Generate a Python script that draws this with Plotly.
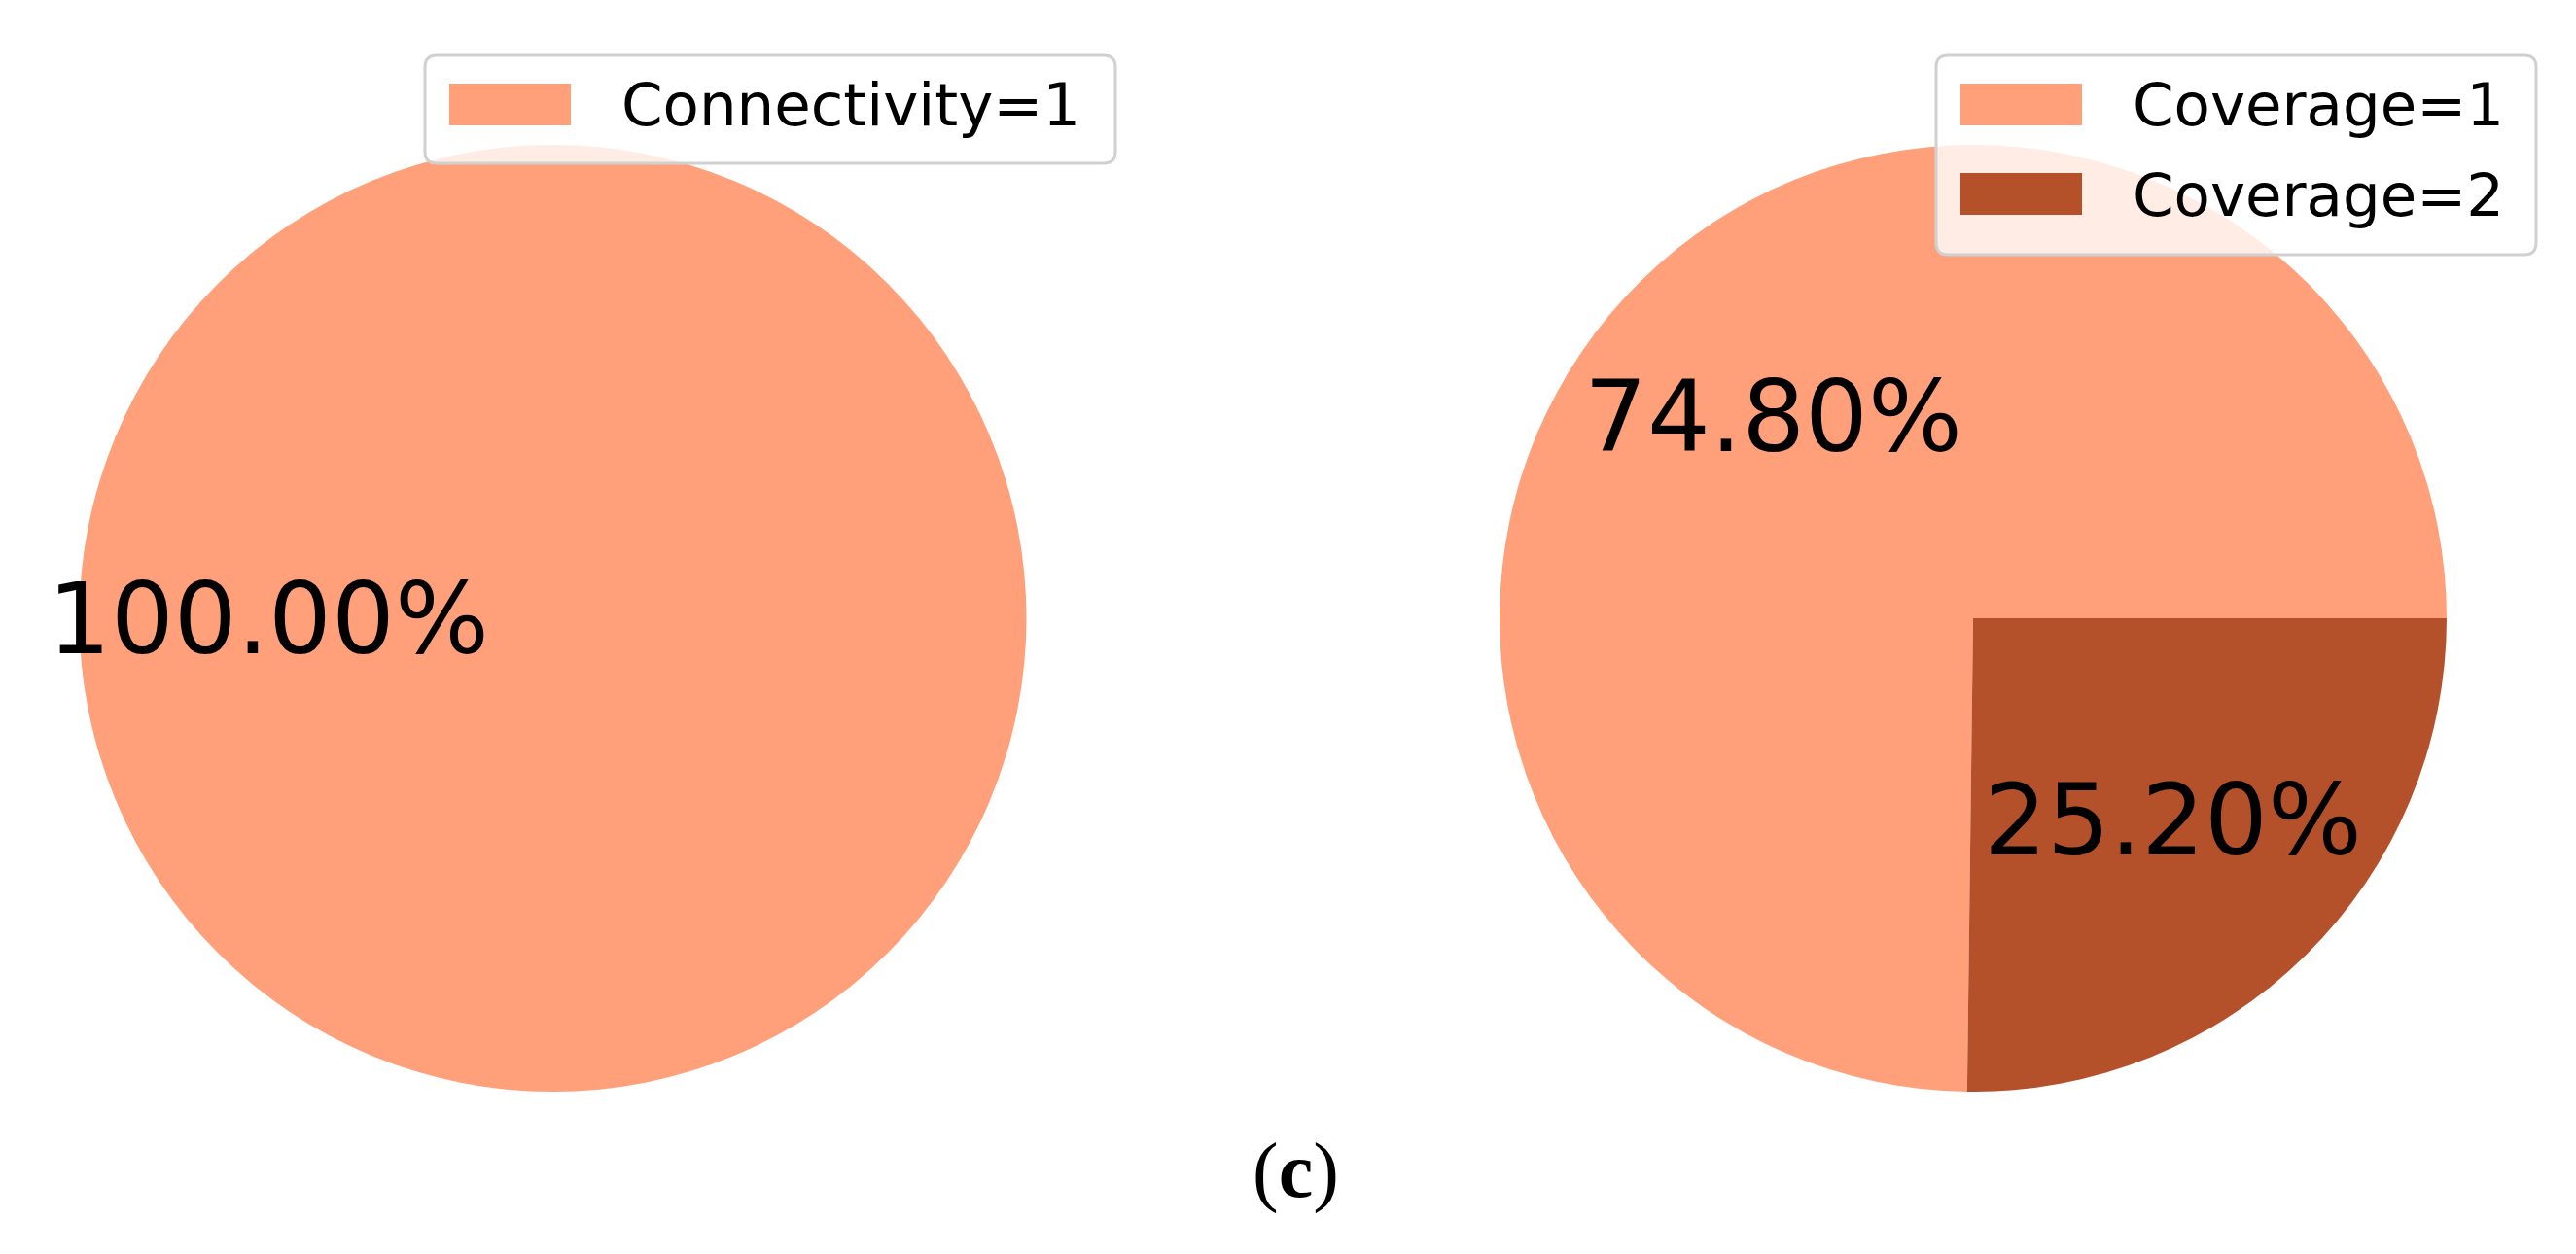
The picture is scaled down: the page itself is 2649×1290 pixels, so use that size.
"""
Two pie charts: connectivity and coverage shares, with framed legends
and a "(c)" caption underneath.
"""

import math

import plotly.graph_objects as go

W, H = 2649, 1290

# data
connectivity_labels = ["Connectivity=1"]
connectivity_values = [100.0]
coverage_labels = ["Coverage=1", "Coverage=2"]
coverage_values = [74.8, 25.2]
slice_colors = ["#FFA07A", "#B5512A"]
caption = "(<b>c</b>)"

LABEL_FONT = dict(family="DejaVu Sans", size=102, color="#000000")
LEGEND_FONT = dict(family="DejaVu Sans", size=61, color="#000000")


def px_x(x):
    return x / W


def px_y(y):
    return 1 - y / H


def rounded_box(x0, y0, x1, y1, r=12):
    """SVG path for a rounded rectangle given in pixel coords."""
    a, b, c, d = px_x(x0), px_y(y0), px_x(x1), px_y(y1)
    rx, ry = r / W, r / H
    return (
        f"M{a + rx},{b} L{c - rx},{b} Q{c},{b} {c},{b - ry} "
        f"L{c},{d + ry} Q{c},{d} {c - rx},{d} "
        f"L{a + rx},{d} Q{a},{d} {a},{d + ry} "
        f"L{a},{b - ry} Q{a},{b} {a + rx},{b} Z"
    )


def pie_trace(labels, values, cx, cy, r):
    # plotly puts the first ccw slice clockwise of `rotation`; shift it so the
    # first slice starts at 3 o'clock and runs counterclockwise (matplotlib style)
    first_span = 360.0 * values[0] / sum(values)
    return go.Pie(
        labels=labels,
        values=values,
        domain=dict(
            x=[px_x(cx - r), px_x(cx + r)],
            y=[px_y(cy + r), px_y(cy - r)],
        ),
        marker=dict(colors=slice_colors[: len(values)], line=dict(width=0)),
        sort=False,
        direction="counterclockwise",
        rotation=90 - first_span,
        textinfo="none",
        showlegend=False,
        hoverinfo="label+percent",
    )


def pct_annotations(values, cx, cy, r):
    """matplotlib-style autopct labels at 0.6 of the radius."""
    out = []
    total = sum(values)
    start = 0.0
    for v in values:
        span = 360.0 * v / total
        mid = math.radians(start + span / 2)
        out.append(dict(
            x=px_x(cx + 0.6 * r * math.cos(mid)),
            y=px_y(cy - 0.6 * r * math.sin(mid)),
            xref="paper", yref="paper",
            text=f"{100 * v / total:.2f}%",
            showarrow=False,
            font=LABEL_FONT,
            xanchor="center", yanchor="middle",
        ))
        start += span
    return out


def legend_parts(labels, x0, y0, x1, y1):
    shapes = [dict(
        type="path", xref="paper", yref="paper",
        path=rounded_box(x0, y0, x1, y1),
        fillcolor="rgba(255,255,255,0.8)",
        line=dict(color="#D0D0D0", width=3),
    )]
    annotations = []
    for i, lab in enumerate(labels):
        yc = y0 + 51 + i * 92
        shapes.append(dict(
            type="rect", xref="paper", yref="paper",
            x0=px_x(x0 + 25), x1=px_x(x0 + 150),
            y0=px_y(yc + 21), y1=px_y(yc - 22),
            fillcolor=slice_colors[i], line=dict(width=0),
        ))
        annotations.append(dict(
            x=px_x(x0 + 200), y=px_y(yc),
            xref="paper", yref="paper",
            text=lab, showarrow=False, font=LEGEND_FONT,
            xanchor="left", yanchor="middle",
        ))
    return shapes, annotations


left_c = (568.5, 636, 487)
right_c = (2029, 636, 487)

fig = go.Figure()
fig.add_trace(pie_trace(connectivity_labels, connectivity_values, *left_c))
fig.add_trace(pie_trace(coverage_labels, coverage_values, *right_c))

annotations = pct_annotations(connectivity_values, *left_c)
annotations += pct_annotations(coverage_values, *right_c)

s1, a1 = legend_parts(connectivity_labels, 437, 57, 1147, 168)
s2, a2 = legend_parts(coverage_labels, 1991, 57, 2608, 262)
annotations += a1 + a2

annotations.append(dict(
    x=px_x(1332), y=px_y(1204),
    xref="paper", yref="paper",
    text=caption, showarrow=False,
    font=dict(family="Liberation Serif", size=80, color="#000000"),
    xanchor="center", yanchor="middle",
))

fig.update_layout(
    width=W,
    height=H,
    margin=dict(l=0, r=0, t=0, b=0),
    paper_bgcolor="white",
    plot_bgcolor="white",
    shapes=s1 + s2,
    annotations=annotations,
)

fig.write_html(
    "out.html",
    config={"displayModeBar": False},
    post_script="document.body.style.margin='0';document.body.style.overflow='hidden';",
)
